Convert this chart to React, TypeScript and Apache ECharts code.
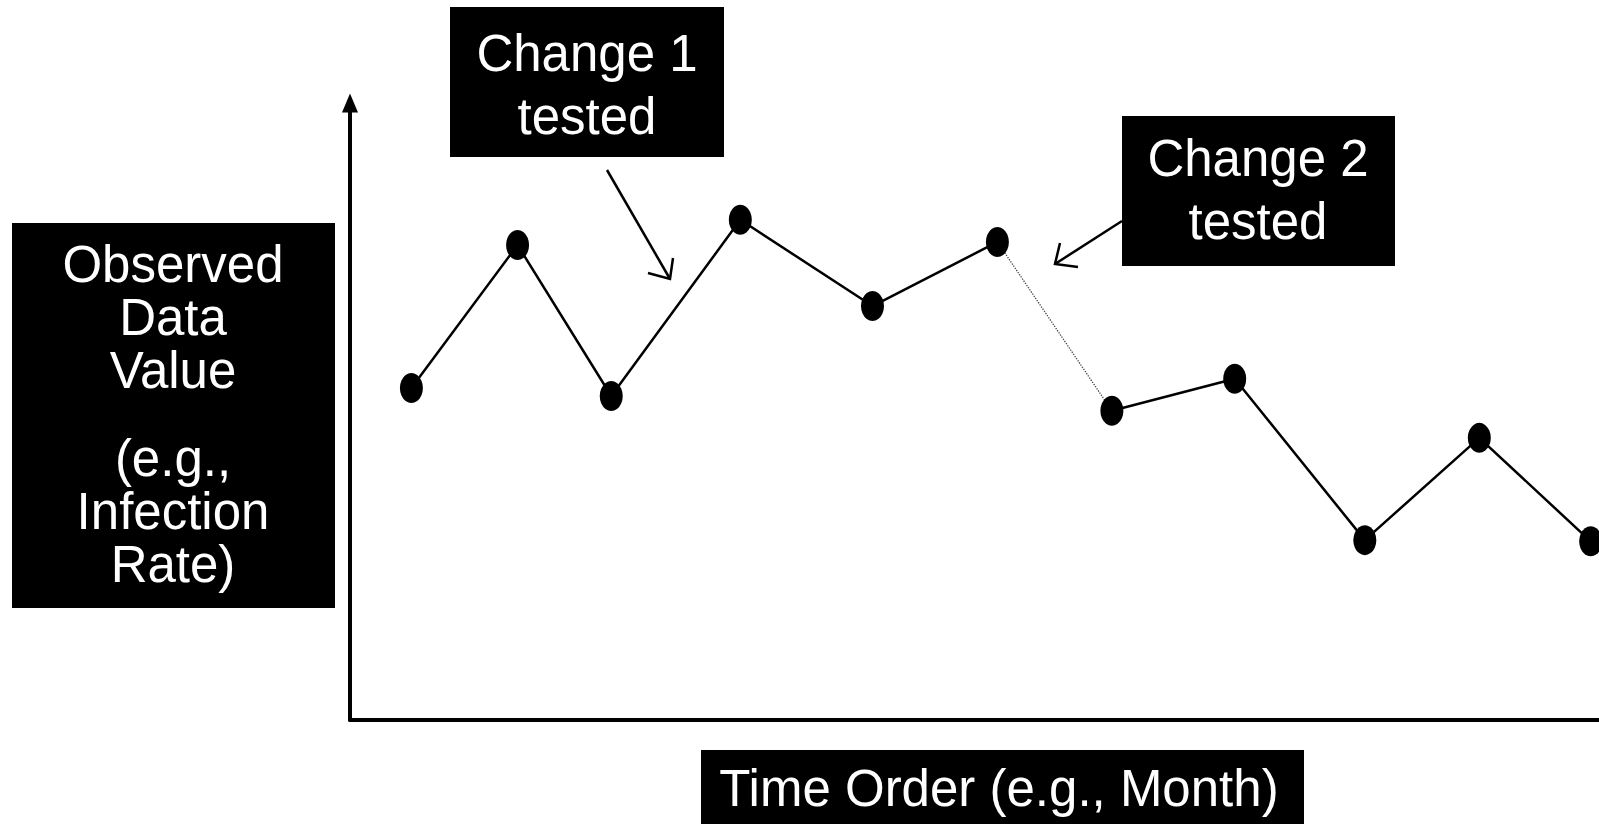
import React, { useEffect, useRef } from "react";
import * as echarts from "echarts";

const months = [0.59, 1.61, 2.51, 3.75, 5.02, 6.22, 7.32, 8.5, 9.75, 10.85, 11.92];
const values = [53.9, 77.1, 52.6, 81.2, 67.2, 77.6, 50.2, 55.4, 29.2, 45.8, 29.0];
// index where change 2 is introduced (dotted connector between these two points)
const breakIndex = 6;

const yLabelLines1 = ["Observed", "Data", "Value"];
const yLabelLines2 = ["(e.g.,", "Infection", "Rate)"];
const xLabel = "Time Order (e.g., Month)";
const change1 = ["Change 1", "tested"];
const change2 = ["Change 2", "tested"];

const FONT = "'Liberation Sans', Arial, Helvetica, sans-serif";

export default function App() {
  const ref = useRef<HTMLDivElement>(null);
  useEffect(() => {
    if (!ref.current) return;
    const chart = echarts.init(ref.current, undefined, { renderer: "svg" });
    const pts = months.map((m, i) => [m, values[i]]);
    const before = pts.slice(0, breakIndex);
    const after = pts.slice(breakIndex);
    const connector = [pts[breakIndex - 1], pts[breakIndex]];

    const axisCommon = {
      type: "value" as const,
      axisLabel: { show: false },
      axisTick: { show: false },
      splitLine: { show: false },
    };
    const axisLine = (size: number[], offset: number) => ({
      show: true,
      onZero: false,
      symbol: ["none", "triangle"],
      symbolSize: size,
      symbolOffset: [0, offset],
      lineStyle: { color: "#000", width: 4 },
    });

    const textStyle = (size: number, lh: number) => ({
      fill: "#fff",
      fontSize: size,
      fontFamily: FONT,
      align: "center",
      verticalAlign: "middle",
      lineHeight: lh,
    });

    chart.setOption({
      animation: false,
      backgroundColor: "#fff",
      grid: { left: 350, right: -7, top: 104, bottom: 105 },
      xAxis: { ...axisCommon, min: 0, max: 12, axisLine: axisLine([16, 18], 16) },
      yAxis: { ...axisCommon, min: 0, max: 100, axisLine: axisLine([16, 19], 1) },
      series: [
        {
          type: "line",
          data: connector,
          symbol: "none",
          lineStyle: { color: "#444", width: 1.3, type: "dotted" },
          z: 1,
        },
        {
          type: "line",
          data: before,
          symbol: "circle",
          symbolSize: [23, 30],
          itemStyle: { color: "#000" },
          lineStyle: { color: "#000", width: 2.5 },
          z: 2,
        },
        {
          type: "line",
          data: after,
          symbol: "circle",
          symbolSize: [23, 30],
          itemStyle: { color: "#000" },
          lineStyle: { color: "#000", width: 2.5 },
          z: 2,
        },
      ],
      graphic: [
        // Y label box
        { type: "rect", shape: { x: 12, y: 223, width: 323, height: 385 }, style: { fill: "#000" } },
        { type: "text", style: { text: yLabelLines1.join("\n"), x: 173, y: 317, ...textStyle(51, 53) } },
        { type: "text", style: { text: yLabelLines2.join("\n"), x: 173, y: 511, ...textStyle(51, 53) } },
        // X label box
        { type: "rect", shape: { x: 701, y: 750, width: 603, height: 74 }, style: { fill: "#000" } },
        { type: "text", style: { text: xLabel, x: 999, y: 788, ...textStyle(51, 60) } },
        // Change 1 box
        { type: "rect", shape: { x: 450, y: 7, width: 274, height: 150 }, style: { fill: "#000" } },
        { type: "text", style: { text: change1.join("\n"), x: 587, y: 85, ...textStyle(51, 63) } },
        // Change 2 box
        { type: "rect", shape: { x: 1122, y: 116, width: 273, height: 150 }, style: { fill: "#000" } },
        { type: "text", style: { text: change2.join("\n"), x: 1258, y: 190, ...textStyle(51, 63) } },
        // Change 1 arrow
        { type: "line", shape: { x1: 607, y1: 170, x2: 670, y2: 279 }, style: { stroke: "#000", lineWidth: 2.5 } },
        { type: "polyline", shape: { points: [[648, 273], [670, 279], [673, 258]] }, style: { stroke: "#000", lineWidth: 2.5, fill: null } },
        // Change 2 arrow
        { type: "line", shape: { x1: 1122, y1: 221, x2: 1055, y2: 264 }, style: { stroke: "#000", lineWidth: 2.5 } },
        { type: "polyline", shape: { points: [[1060, 243], [1055, 264], [1078, 267]] }, style: { stroke: "#000", lineWidth: 2.5, fill: null } },
      ],
    });
    return () => chart.dispose();
  }, []);
  return (
    <div
      ref={ref}
      style={{ position: "fixed", left: 0, top: 0, width: 1599, height: 825, background: "#fff" }}
    />
  );
}
